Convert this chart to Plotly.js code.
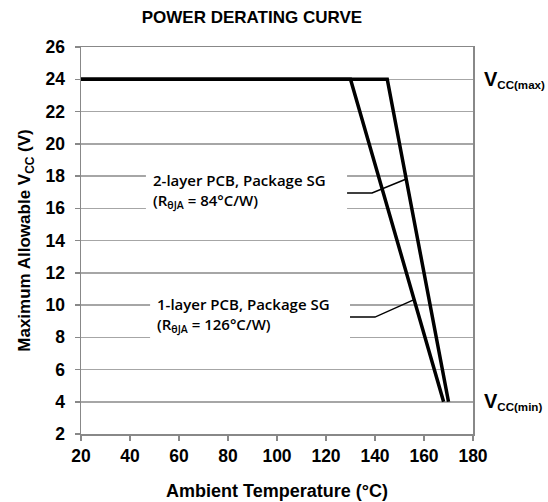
<!DOCTYPE html>
<html>
<head>
<meta charset="utf-8">
<script src="https://cdn.plot.ly/plotly-3.0.1.min.js"></script>
<style>html,body{margin:0;padding:0;background:#fff;}#chart{width:548px;height:502px;}</style>
</head>
<body>
<div id="chart"></div>
<script>
// Data
const temp1Layer = [20, 130, 168];
const vcc1Layer = [24, 24, 4];
const temp2Layer = [20, 145, 170];
const vcc2Layer = [24, 24, 4];
const leader2X = [128.6, 138.8, 152.5];
const leader2Y = [16.95, 16.95, 17.8];
const leader1X = [129.8, 140, 155.5];
const leader1Y = [9.25, 9.25, 10.3];
const xTicks = [20, 40, 60, 80, 100, 120, 140, 160, 180];
const yTicks = [2, 4, 6, 8, 10, 12, 14, 16, 18, 20, 22, 24, 26];
const label2 = "2-layer PCB, Package SG<br>(R<sub>θJA</sub> = 84°C/W)";
const label1 = "1-layer PCB, Package SG<br>(R<sub>θJA</sub> = 126°C/W)";
const vccMaxLabel = "<span style='font-size:20px'>V</span><sub>CC(max)</sub>";
const vccMinLabel = "<span style='font-size:20px'>V</span><sub>CC(min)</sub>";

const arial = "Liberation Sans, Arial, sans-serif";
const calib = "Open Sans, sans-serif";

const traces = [
  {x: temp1Layer, y: vcc1Layer, mode: 'lines', line: {color: '#000', width: 3.5}, hoverinfo: 'skip'},
  {x: temp2Layer, y: vcc2Layer, mode: 'lines', line: {color: '#000', width: 3.5}, hoverinfo: 'skip'},
  {x: leader2X, y: leader2Y, mode: 'lines', line: {color: '#000', width: 1.5}, hoverinfo: 'skip'},
  {x: leader1X, y: leader1Y, mode: 'lines', line: {color: '#000', width: 1.5}, hoverinfo: 'skip'}
];

const layout = {
  width: 548, height: 502,
  margin: {l: 81, r: 75, t: 47, b: 68},
  paper_bgcolor: '#fff', plot_bgcolor: '#fff',
  showlegend: false,
  title: {text: 'POWER DERATING CURVE', font: {family: arial, size: 17, color: '#000', weight: 'bold'},
          x: 0.436, xref: 'paper', xanchor: 'center', y: 0.966, yref: 'container', yanchor: 'middle'},
  xaxis: {range: [20, 180], tickvals: xTicks, ticks: 'outside', ticklen: 5, tickcolor: '#888', tickwidth: 1.5,
          showline: true, linecolor: '#888', linewidth: 1.5, mirror: true, showgrid: false, zeroline: false,
          tickfont: {family: arial, size: 17.5, color: '#000', weight: 'bold'},
          title: {text: 'Ambient Temperature (°C)', font: {family: arial, size: 18, color: '#000', weight: 'bold'}, standoff: 20}},
  yaxis: {range: [2, 26], tickvals: yTicks, ticks: 'outside', ticklen: 5, tickcolor: '#888', tickwidth: 1.5,
          ticklabelstandoff: 6,
          showline: true, linecolor: '#888', linewidth: 1.5, mirror: true,
          showgrid: true, gridcolor: '#a6a6a6', gridwidth: 1.5, zeroline: false,
          tickfont: {family: arial, size: 17.5, color: '#000', weight: 'bold'},
          title: {text: 'Maximum Allowable V<sub>CC</sub> (V)', font: {family: arial, size: 17, color: '#000', weight: 'bold'}, standoff: 10}},
  shapes: [
    {type: 'rect', layer: 'between', xref: 'x', yref: 'y', x0: 46.5, x1: 128.6, y0: 15.4, y1: 18.6, fillcolor: '#fff', line: {width: 0}},
    {type: 'rect', layer: 'between', xref: 'x', yref: 'y', x0: 48.2, x1: 129.8, y0: 7.4, y1: 10.6, fillcolor: '#fff', line: {width: 0}}
  ],
  annotations: [
    {text: label2, x: 48.5, y: 17.05, xref: 'x', yref: 'y', xanchor: 'left', yanchor: 'middle', align: 'left', showarrow: false,
     font: {family: calib, size: 15, color: '#000', weight: 600}},
    {text: label1, x: 50, y: 9.35, xref: 'x', yref: 'y', xanchor: 'left', yanchor: 'middle', align: 'left', showarrow: false,
     font: {family: calib, size: 15, color: '#000', weight: 600}},
    {text: vccMaxLabel, x: 1, xref: 'paper', xshift: 9, y: 24, yref: 'y', xanchor: 'left', yanchor: 'middle', showarrow: false,
     font: {family: arial, size: 16.5, color: '#000', weight: 'bold'}},
    {text: vccMinLabel, x: 1, xref: 'paper', xshift: 9, y: 4, yref: 'y', xanchor: 'left', yanchor: 'middle', showarrow: false,
     font: {family: arial, size: 16.5, color: '#000', weight: 'bold'}}
  ]
};

Plotly.newPlot('chart', traces, layout, {displayModeBar: false, staticPlot: true});
</script>
</body>
</html>
